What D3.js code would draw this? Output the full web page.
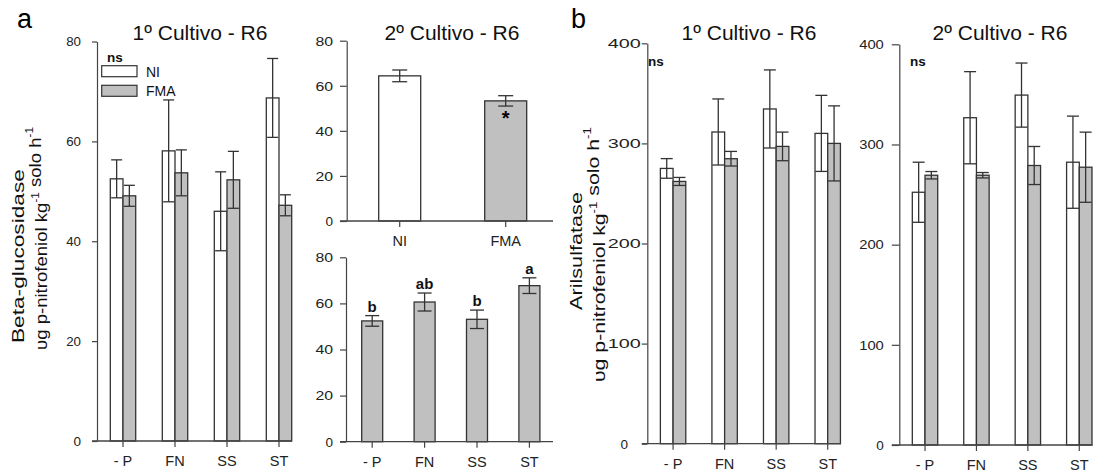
<!DOCTYPE html>
<html lang="pt">
<head>
<meta charset="UTF-8" />
<title>Beta-glucosidase e Arilsulfatase - R6</title>
<script src="https://cdn.jsdelivr.net/npm/d3@7"></script>
<style>
  body { margin: 0; background: #fff; }
  svg { font-family: "Liberation Sans", Arial, sans-serif; display: block; }
  .axis path, .axis line { stroke: #444; stroke-width: 1.2; }
  .axis text { fill: #222; }
</style>
</head>
<body>
<div id="chart"></div>
<script>
// categorias
const grupos = ["- P", "FN", "SS", "ST"];
const tratamentos = ["NI", "FMA"];

// Beta-glucosidase, 1º cultivo (média e erro)
const betaC1NI = [52.5, 58.1, 46.0, 68.7];
const betaC1NIerr = [3.8, 10.2, 7.9, 7.9];
const betaC1FMA = [49.1, 53.7, 52.3, 47.2];
const betaC1FMAerr = [2.1, 4.6, 5.7, 2.1];

// Beta-glucosidase, 2º cultivo: efeito do inóculo e da fonte de P
const betaC2Trat = [64.4, 53.3];
const betaC2TratErr = [2.6, 2.3];
const betaC2Fonte = [52.4, 60.6, 53.1, 67.7];
const betaC2FonteErr = [2.3, 3.9, 4.0, 3.4];
const letrasFonte = ["b", "ab", "b", "a"];

// Arilsulfatase
const arilC1NI = [275, 311.4, 334.4, 310];
const arilC1NIerr = [9.8, 33, 39, 38];
const arilC1FMA = [262, 284.7, 297, 300];
const arilC1FMAerr = [4, 7.3, 14.3, 37.5];
const arilC2NI = [252.3, 326.7, 349.3, 282.3];
const arilC2NIerr = [30, 46, 32, 46];
const arilC2FMA = [269.3, 269.3, 279, 277.3];
const arilC2FMAerr = [3.7, 2.7, 19, 35];

const w = 1096, h = 475;
const cinza = "#c0c0c0", traco = "#333";

const svg = d3.select("#chart").append("svg")
    .attr("width", w).attr("height", h);

function painel(cfg) {
    const y = d3.scaleLinear().domain([0, cfg.max]).range([cfg.y0, cfg.y1]);
    const x = d3.scaleBand().domain(cfg.cats).range([cfg.x0, cfg.x1]);
    const g = svg.append("g");

    // eixo y
    g.append("g").attr("class", "axis")
        .attr("transform", "translate(" + cfg.x0 + ",0)")
        .call(d3.axisLeft(y).tickValues(d3.range(0, cfg.max + 1, cfg.step))
            .tickSize(cfg.tick).tickSizeOuter(0).tickPadding(cfg.pad))
        .call(a => {
            const t = a.selectAll("text").style("font-size", "13.5px");
            t.filter(d => d > 0)
                .attr("textLength", d => String(d).length * cfg.tickW)
                .attr("lengthAdjust", "spacingAndGlyphs");
            if (cfg.mid) {
                t.attr("text-anchor", "middle").attr("x", -cfg.mid);
            }
        });

    // barras
    cfg.series.forEach(s => {
        const bx = (d, i) => x(cfg.cats[i]) + x.bandwidth() / 2 + s.off * cfg.bw;
        g.selectAll(null).data(s.vals).enter().append("rect")
            .attr("x", (d, i) => bx(d, i))
            .attr("y", d => y(d))
            .attr("width", cfg.bw)
            .attr("height", d => y(0) - y(d))
            .attr("fill", s.fill)
            .attr("stroke", traco)
            .attr("stroke-width", 1.3);
        const cx = (d, i) => bx(d, i) + cfg.bw / 2;
        const cw = cfg.cap / 2;
        const eb = g.selectAll(null).data(s.vals).enter().append("g")
            .attr("stroke", traco).attr("stroke-width", 1.3);
        eb.append("line")
            .attr("x1", cx).attr("x2", cx)
            .attr("y1", (d, i) => y(d + s.errs[i]))
            .attr("y2", (d, i) => y(d - s.errs[i]));
        eb.append("line")
            .attr("x1", (d, i) => cx(d, i) - cw).attr("x2", (d, i) => cx(d, i) + cw)
            .attr("y1", (d, i) => y(d + s.errs[i])).attr("y2", (d, i) => y(d + s.errs[i]));
        eb.append("line")
            .attr("x1", (d, i) => cx(d, i) - cw).attr("x2", (d, i) => cx(d, i) + cw)
            .attr("y1", (d, i) => y(d - s.errs[i])).attr("y2", (d, i) => y(d - s.errs[i]));
    });

    // eixo x
    const ax = g.append("g").attr("class", "axis")
        .attr("transform", "translate(0," + cfg.y0 + ")")
        .call(d3.axisBottom(x).tickSize(6).tickSizeOuter(0).tickPadding(9));
    ax.select(".domain").remove();
    ax.selectAll("text").style("font-size", "14.5px");
    g.append("line")
        .attr("x1", cfg.x0 - cfg.tick).attr("x2", cfg.xEnd)
        .attr("y1", cfg.y0).attr("y2", cfg.y0)
        .attr("stroke", "#444").attr("stroke-width", 1.3);

    if (cfg.title) {
        svg.append("text").attr("x", cfg.title[1]).attr("y", 40)
            .attr("text-anchor", "middle").style("font-size", "21px")
            .attr("fill", "#111").text(cfg.title[0]);
    }
    return { x, y, g };
}

// a: 1º cultivo
const a1 = painel({
    cats: grupos, max: 80, step: 20, x0: 97, x1: 305, xEnd: 292,
    y0: 441, y1: 41.5, tick: 5, pad: 11, tickW: 7.4, bw: 12.7, cap: 11,
    title: ["1º Cultivo - R6", 200],
    series: [
        { vals: betaC1NI, errs: betaC1NIerr, fill: "#fff", off: -1 },
        { vals: betaC1FMA, errs: betaC1FMAerr, fill: cinza, off: 0 }
    ]
});

// a: 2º cultivo, inóculo
const a2 = painel({
    cats: tratamentos, max: 80, step: 20, x0: 346.7, x1: 558.7, xEnd: 553,
    y0: 221, y1: 40.7, tick: 6.7, pad: 7, tickW: 8.8, bw: 42, cap: 15,
    title: ["2º Cultivo - R6", 452],
    series: [
        { vals: betaC2Trat, errs: betaC2TratErr, fill: null, off: -0.5 }
    ]
});
a2.g.selectAll("rect").attr("fill", (d, i) => i === 0 ? "#fff" : cinza);
a2.g.append("text")
    .attr("x", a2.x("FMA") + a2.x.bandwidth() / 2)
    .attr("y", a2.y(betaC2Trat[1]) + 24)
    .attr("text-anchor", "middle").style("font-size", "20px").style("font-weight", "bold")
    .text("*");

// a: 2º cultivo, fonte de P
const a3 = painel({
    cats: grupos, max: 80, step: 20, x0: 346, x1: 555.6, xEnd: 553,
    y0: 441.7, y1: 257.3, tick: 6, pad: 7, tickW: 8.8, bw: 21, cap: 14,
    series: [
        { vals: betaC2Fonte, errs: betaC2FonteErr, fill: cinza, off: -0.5 }
    ]
});
a3.g.selectAll(null).data(betaC2Fonte).enter().append("text")
    .attr("x", (d, i) => a3.x(grupos[i]) + a3.x.bandwidth() / 2)
    .attr("y", (d, i) => a3.y(d + betaC2FonteErr[i]) - 4)
    .attr("text-anchor", "middle").style("font-size", "15px").style("font-weight", "bold")
    .attr("fill", "#111")
    .text((d, i) => letrasFonte[i]);

// b: arilsulfatase
const b1 = painel({
    cats: grupos, max: 400, step: 100, x0: 647.3, x1: 853.5, xEnd: 841,
    y0: 443.7, y1: 43.3, tick: 5.5, pad: 1, tickW: 11, mid: 23, bw: 12.7, cap: 12,
    title: ["1º Cultivo - R6", 749],
    series: [
        { vals: arilC1NI, errs: arilC1NIerr, fill: "#fff", off: -1 },
        { vals: arilC1FMA, errs: arilC1FMAerr, fill: cinza, off: 0 }
    ]
});
const b2 = painel({
    cats: grupos, max: 400, step: 100, x0: 899.3, x1: 1105, xEnd: 1092.5,
    y0: 445, y1: 44.3, tick: 7.5, pad: 8, tickW: 8.2, bw: 12.7, cap: 12,
    title: ["2º Cultivo - R6", 1000],
    series: [
        { vals: arilC2NI, errs: arilC2NIerr, fill: "#fff", off: -1 },
        { vals: arilC2FMA, errs: arilC2FMAerr, fill: cinza, off: 0 }
    ]
});

// ns
[[107, 62], [648, 66], [910, 66]].forEach(p => {
    svg.append("text").attr("x", p[0]).attr("y", p[1])
        .style("font-size", "13.5px").style("font-weight", "bold").attr("fill", "#111").text("ns");
});

// legenda
tratamentos.forEach((t, i) => {
    svg.append("rect").attr("x", 101.7).attr("y", 65.7 + i * 19.6)
        .attr("width", 35.3).attr("height", 11)
        .attr("fill", i === 0 ? "#fff" : cinza).attr("stroke", traco).attr("stroke-width", 1.2);
    svg.append("text").attr("x", 146).attr("y", 71.5 + i * 19.6)
        .attr("dominant-baseline", "central")
        .style("font-size", "14px").attr("fill", "#111").text(t);
});

// letras dos painéis
svg.append("text").attr("x", 17).attr("y", 28).style("font-size", "27px").text("a");
svg.append("text").attr("x", 571).attr("y", 28).style("font-size", "27px").text("b");

// títulos dos eixos y (esticados no comprimento como no original)
function rotulo(cx, yBase, comp, partes) {
    const t = svg.append("text")
        .attr("dominant-baseline", "central")
        .style("font-size", "16px").attr("fill", "#111");
    partes.forEach(p => {
        if (p.sup) {
            t.append("tspan").attr("dy", -6).style("font-size", "10px").text(p.t);
            t.append("tspan").attr("dy", 6).text("");
        } else {
            t.append("tspan").text(p.t);
        }
    });
    const L = t.node().getComputedTextLength();
    t.attr("transform", "translate(" + cx + "," + yBase + ") rotate(-90) scale(" + (comp / L) + ",1)");
}
const unidade = [{ t: "υg p-nitrofeniol kg" }, { t: "-1", sup: true }, { t: "  solo h" }, { t: "-1", sup: true }];
rotulo(18.5, 343, 174, [{ t: "Beta-glucosidase" }]);
rotulo(41, 350, 223, unidade);
rotulo(576, 310, 118, [{ t: "Arilsulfatase" }]);
rotulo(599, 382, 255, unidade);
</script>
</body>
</html>
